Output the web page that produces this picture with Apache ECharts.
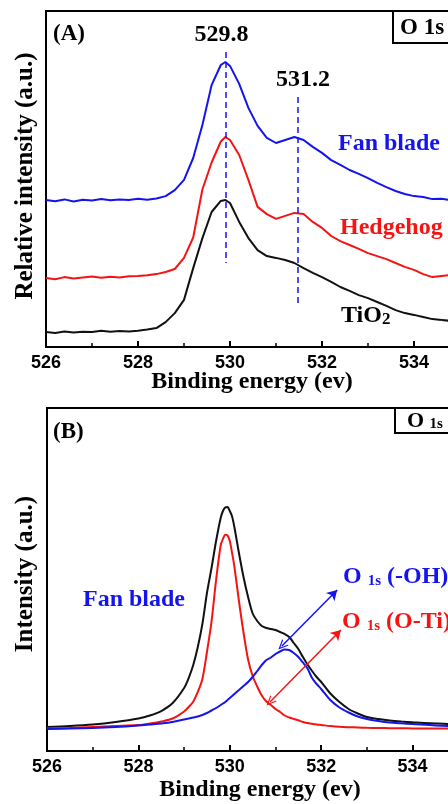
<!DOCTYPE html>
<html><head><meta charset="utf-8">
<script src="https://cdn.jsdelivr.net/npm/echarts@6/dist/echarts.min.js"></script>
<style>html,body{margin:0;padding:0;background:#fff}#c{width:448px;height:804px}</style>
</head><body><div id="c"></div>
<script>
// ---------- Panel A: raw O 1s spectra ----------
const energyA = [526.0,526.2,526.4,526.6,526.8,527.0,527.2,527.4,527.6,527.8,528.0,528.2,528.4,528.6,528.8,529.0,529.2,529.4,529.6,529.8,529.9,530.0,530.2,530.4,530.6,530.8,531.0,531.2,531.4,531.6,531.8,532.0,532.2,532.4,532.6,532.8,533.0,533.2,533.4,533.6,533.8,534.0,534.2,534.4,534.6,534.8,535.0];
const fanBladeA = [49.0,48.6,49.2,48.5,49.1,48.8,49.3,48.9,49.2,49.0,49.4,49.1,49.5,50.3,52.3,55.7,63.0,74.0,87.3,94.0,95.0,93.7,87.7,79.7,73.7,69.7,68.0,69.0,70.0,69.0,66.7,64.7,62.3,60.7,59.0,57.7,56.3,54.7,53.3,52.0,51.0,50.3,50.0,49.3,49.4,49.0,49.1];
const hedgehogA = [23.0,22.6,23.3,22.8,23.2,23.5,23.1,23.4,23.2,23.6,23.7,23.9,24.3,25.0,26.0,29.7,36.5,52.5,61.5,68.5,70.0,69.0,64.0,55.7,46.7,44.3,42.7,43.7,44.7,44.3,41.7,39.7,37.0,35.3,34.0,32.7,31.3,30.3,29.3,28.0,26.7,25.7,24.3,23.3,23.7,24.0,24.0];
const tio2A = [5.0,4.7,5.2,4.8,5.1,5.0,5.4,5.1,5.3,5.2,5.4,5.8,6.3,8.3,11.3,15.7,26.3,36.3,45.0,48.7,49.0,48.0,41.7,36.3,32.3,30.3,29.7,29.0,28.0,26.3,24.7,23.3,21.7,20.0,18.7,17.3,16.3,15.0,13.7,12.3,11.3,10.7,10.0,9.3,9.0,8.7,8.5];
const peakPositions = [529.9, 531.48];
const peakLabels = ['529.8', '531.2'];

// ---------- Panel B: fitted O 1s components (Fan blade) ----------
const energyB = [526.0,526.5,527.0,527.5,528.0,528.25,528.5,528.75,529.0,529.1,529.2,529.3,529.4,529.5,529.6,529.7,529.8,529.85,529.9,529.95,530.0,530.05,530.1,530.2,530.3,530.4,530.5,530.6,530.7,530.8,530.9,531.0,531.1,531.2,531.3,531.4,531.5,531.6,531.7,531.8,531.9,532.0,532.2,532.4,532.6,532.8,533.0,533.25,533.5,533.75,534.0,534.5,535.0,535.5,536.0];
const envelopeB = [8.0,8.33,8.83,9.67,10.83,11.83,13.33,16.0,21.0,24.33,28.67,34.67,42.33,52.67,61.0,70.0,77.67,80.0,81.17,81.33,80.0,78.17,74.67,66.0,58.0,51.33,45.83,43.33,41.67,41.0,40.67,40.33,39.67,39.0,38.0,36.0,34.0,31.33,28.83,26.67,24.67,23.0,19.17,16.33,14.0,12.5,11.33,10.67,10.17,9.83,9.57,9.17,8.83,8.67,8.5];
const oTiB = [7.5,7.67,8.0,8.33,8.67,9.17,9.83,10.83,13.17,14.67,16.43,19.67,24.0,33.0,43.1,57.0,68.5,70.67,72.1,71.9,70.0,66.0,61.5,50.0,39.5,30.5,25.0,21.5,18.5,16.5,15.33,14.0,13.0,11.83,11.17,10.67,10.23,9.67,9.33,9.07,8.83,8.67,8.33,8.07,7.93,7.83,7.73,7.67,7.6,7.57,7.53,7.5,7.47,7.43,7.43];
const ohB = [7.33,7.5,7.67,8.0,8.5,8.83,9.17,9.67,10.5,10.83,11.17,11.5,12.0,12.67,13.5,14.33,15.33,15.83,16.33,17.0,17.67,18.33,19.0,20.33,21.67,23.0,24.67,26.67,28.67,30.33,31.17,32.33,33.17,33.83,33.67,32.67,31.33,29.5,27.5,24.33,22.33,20.67,17.0,14.5,12.83,11.5,10.67,10.0,9.5,9.23,9.0,8.5,8.17,8.0,7.83];

const pairs = (xs, ys) => xs.map((x, i) => [x, ys[i]]);

const BLUE = '#1414ee', RED = '#f51414', BLACK = '#111';
const SERIF = '"Liberation Serif", "Times New Roman", serif';
const SANS = '"Liberation Sans", Arial, sans-serif';

function xAxisCfg(gridIndex) {
  return {
    type: 'value', gridIndex, min: 526, max: 536, interval: 2,
    axisLine: { show: true, onZero: false, lineStyle: { color: '#000', width: 2 } },
    axisTick: { show: true, inside: true, length: 6, lineStyle: { color: '#000', width: 2 } },
    minorTick: { show: true, splitNumber: 2, length: 4, lineStyle: { color: '#000', width: 1.5 } },
    splitLine: { show: false }, minorSplitLine: { show: false },
    axisLabel: { color: '#000', fontFamily: SANS, fontWeight: 'bold', fontSize: 18, margin: 7 }
  };
}
function yAxisCfg(gridIndex, max) {
  return { type: 'value', gridIndex, min: 0, max,
    axisLine: { show: false }, axisTick: { show: false }, axisLabel: { show: false }, splitLine: { show: false } };
}
function lineSeries(name, xi, data, color, extra) {
  return Object.assign({
    name, type: 'line', xAxisIndex: xi, yAxisIndex: xi, data, showSymbol: false, symbol: 'none',
    lineStyle: { color, width: 2 }, itemStyle: { color }, silent: true
  }, extra || {});
}
function small(color, size) {
  return { fill: color, fontFamily: SERIF, fontWeight: 'bold', fontSize: size, verticalAlign: 'bottom' };
}
function big(color, size) {
  return { fill: color, fontFamily: SERIF, fontWeight: 'bold', fontSize: size, verticalAlign: 'bottom' };
}

const chevron = 'path://M0,10 L5,0 L10,10 L8.6,10 L5,2.8 L1.4,10 Z';

const option = {
  animation: false,
  backgroundColor: '#fff',
  grid: [
    { left: 46, top: 11, width: 460, height: 336, show: true, borderColor: '#000', borderWidth: 2, backgroundColor: 'transparent', outerBoundsMode: 'none', containLabel: false },
    { left: 47, top: 408, width: 457, height: 343, show: true, borderColor: '#000', borderWidth: 2, backgroundColor: 'transparent', outerBoundsMode: 'none', containLabel: false }
  ],
  xAxis: [xAxisCfg(0), xAxisCfg(1)],
  yAxis: [yAxisCfg(0, 112), yAxisCfg(1, 114.33)],
  series: [
    lineSeries('TiO2', 0, pairs(energyA, tio2A), BLACK),
    lineSeries('Hedgehog', 0, pairs(energyA, hedgehogA), RED),
    lineSeries('Fan blade', 0, pairs(energyA, fanBladeA), BLUE, {
      markLine: {
        silent: true, symbol: ['none', 'none'],
        lineStyle: { color: BLUE, width: 1.5, type: [6, 4] },
        label: { show: true, position: 'start', distance: 5, formatter: '{b}', color: '#000',
          fontFamily: SERIF, fontWeight: 'bold', fontSize: 24 },
        data: [
          [{ name: peakLabels[0], coord: [peakPositions[0], 98.3], label: { padding: [0, 8, 0, 0] } }, { coord: [peakPositions[0], 28] }],
          [{ name: peakLabels[1], coord: [peakPositions[1], 83.3], label: { padding: [0, 0, 0, 10] } }, { coord: [peakPositions[1], 14.7] }]
        ]
      }
    }),
    lineSeries('Envelope', 1, pairs(energyB, envelopeB), BLACK, { smooth: 0.3 }),
    lineSeries('O 1s (O-Ti)', 1, pairs(energyB, oTiB), RED, {
      smooth: 0.3,
      markLine: {
        silent: true, symbol: ['arrow', chevron], symbolSize: [9, 10],
        lineStyle: { color: RED, width: 1.5, type: 'solid' }, label: { show: false },
        data: [[{ coord: [532.43, 40.33] }, { coord: [530.88, 16.33] }]]
      }
    }),
    lineSeries('O 1s (-OH)', 1, pairs(energyB, ohB), BLUE, {
      smooth: 0.3,
      markLine: {
        silent: true, symbol: ['arrow', chevron], symbolSize: [9, 10],
        lineStyle: { color: BLUE, width: 1.5, type: 'solid' }, label: { show: false },
        data: [[{ coord: [532.35, 53.67] }, { coord: [531.14, 35.0] }]]
      }
    })
  ],
  graphic: [
    // Panel A texts
    { type: 'text', x: 26, y: 176, rotation: Math.PI / 2,
      style: { text: 'Relative intensity (a.u.)', fill: '#000', fontFamily: SERIF, fontWeight: 'bold', fontSize: 25, align: 'center', verticalAlign: 'middle' } },
    { type: 'text', x: 252, y: 382,
      style: { text: 'Binding energy (ev)', fill: '#000', fontFamily: SERIF, fontWeight: 'bold', fontSize: 24, align: 'center', verticalAlign: 'middle' } },
    { type: 'text', x: 53, y: 34,
      style: { text: '(A)', fill: '#000', fontFamily: SERIF, fontWeight: 'bold', fontSize: 23, align: 'left', verticalAlign: 'middle' } },
    { type: 'rect', shape: { x: 393, y: 11, width: 80, height: 32 }, style: { fill: '#fff', stroke: '#000', lineWidth: 2 } },
    { type: 'text', x: 400, y: 28,
      style: { text: 'O 1s', fill: '#000', fontFamily: SERIF, fontWeight: 'bold', fontSize: 23, align: 'left', verticalAlign: 'middle' } },
    { type: 'text', x: 338, y: 144,
      style: { text: 'Fan blade', fill: BLUE, fontFamily: SERIF, fontWeight: 'bold', fontSize: 24, align: 'left', verticalAlign: 'middle' } },
    { type: 'text', x: 340, y: 228,
      style: { text: 'Hedgehog', fill: RED, fontFamily: SERIF, fontWeight: 'bold', fontSize: 24, align: 'left', verticalAlign: 'middle' } },
    { type: 'text', x: 341, y: 316,
      style: { text: '{m|TiO}{s|2}', align: 'left', verticalAlign: 'middle',
        rich: { m: big('#000', 24), s: small('#000', 17) } } },
    // Panel B texts
    { type: 'text', x: 26, y: 574, rotation: Math.PI / 2,
      style: { text: 'Intensity (a.u.)', fill: '#000', fontFamily: SERIF, fontWeight: 'bold', fontSize: 25, align: 'center', verticalAlign: 'middle' } },
    { type: 'text', x: 260, y: 790,
      style: { text: 'Binding energy (ev)', fill: '#000', fontFamily: SERIF, fontWeight: 'bold', fontSize: 24, align: 'center', verticalAlign: 'middle' } },
    { type: 'text', x: 53, y: 432,
      style: { text: '(B)', fill: '#000', fontFamily: SERIF, fontWeight: 'bold', fontSize: 23, align: 'left', verticalAlign: 'middle' } },
    { type: 'rect', shape: { x: 395, y: 408, width: 80, height: 25 }, style: { fill: '#fff', stroke: '#000', lineWidth: 2 } },
    { type: 'text', x: 407, y: 421,
      style: { text: '{m|O }{s|1s}', align: 'left', verticalAlign: 'middle',
        rich: { m: big('#000', 22), s: small('#000', 15) } } },
    { type: 'text', x: 83, y: 600,
      style: { text: 'Fan blade', fill: BLUE, fontFamily: SERIF, fontWeight: 'bold', fontSize: 24, align: 'left', verticalAlign: 'middle' } },
    { type: 'text', x: 343, y: 577,
      style: { text: '{m|O }{s|1s}{m| (-OH)}', align: 'left', verticalAlign: 'middle',
        rich: { m: big(BLUE, 24), s: small(BLUE, 15) } } },
    { type: 'text', x: 342, y: 622,
      style: { text: '{m|O }{s|1s}{m| (O-Ti)}', align: 'left', verticalAlign: 'middle',
        rich: { m: big(RED, 24), s: small(RED, 15) } } }
  ]
};

const chart = echarts.init(document.getElementById('c'), null, { renderer: 'canvas' });
chart.setOption(option);
</script>
</body></html>
